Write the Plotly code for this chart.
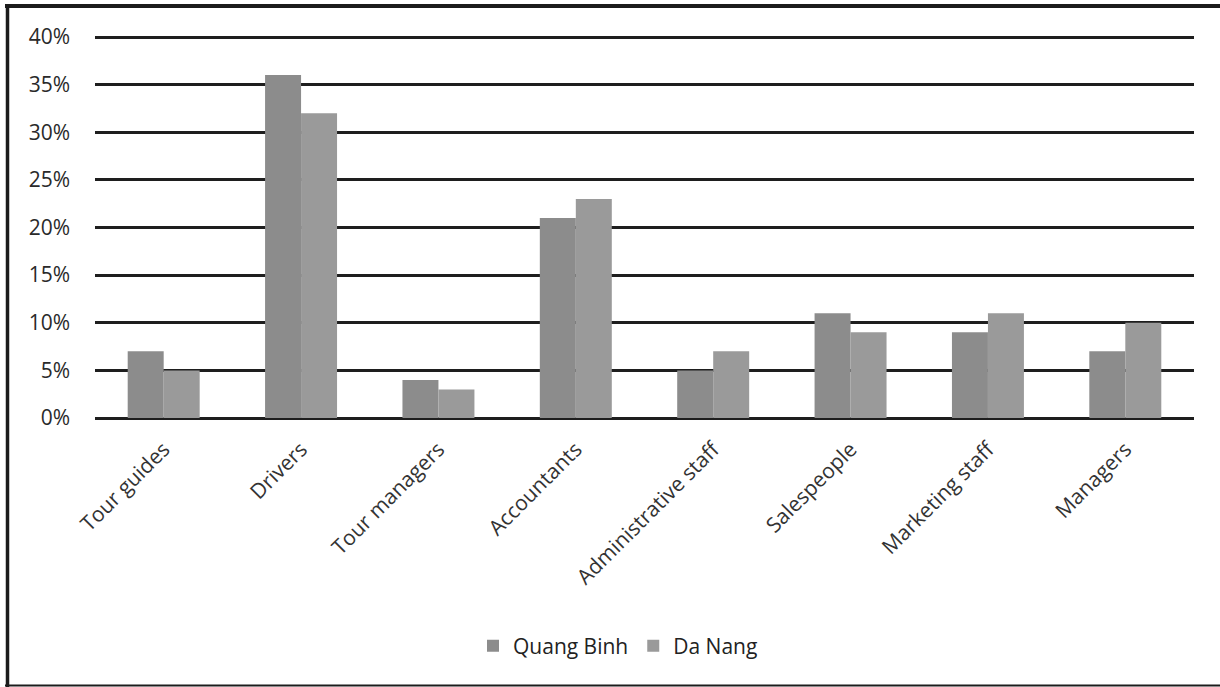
import plotly.graph_objects as go

# Share of staff positions by province
categories = ["Tour guides", "Drivers", "Tour managers", "Accountants",
              "Administrative staff", "Salespeople", "Marketing staff", "Managers"]
quang_binh = [0.07, 0.36, 0.04, 0.21, 0.05, 0.11, 0.09, 0.07]
da_nang = [0.05, 0.32, 0.03, 0.23, 0.07, 0.09, 0.11, 0.10]
y_ticks = [0, 0.05, 0.10, 0.15, 0.20, 0.25, 0.30, 0.35, 0.40]
y_tick_labels = ["0%", "5%", "10%", "15%", "20%", "25%", "30%", "35%", "40%"]

W, H = 1220, 687
L, R, T, B = 95, 26, 35, 269
plot_w = W - L - R
plot_h = H - T - B
# a little headroom so the 40% gridline is still drawn
y_top = 0.4 * plot_h / (H - 37 - B)


def px_x(x):
    return (x - L) / plot_w


def px_y(y):
    return (H - B - y) / plot_h


fig = go.Figure()
fig.add_trace(go.Bar(name="Quang Binh", x=categories, y=quang_binh,
                     marker=dict(color="#8c8c8c", line=dict(width=0))))
fig.add_trace(go.Bar(name="Da Nang", x=categories, y=da_nang,
                     marker=dict(color="#9a9a9a", line=dict(width=0))))

# Outer frame of the chart
frame = [
    dict(x0=px_x(7.5), x1=px_x(7.5), y0=px_y(4), y1=px_y(687), w=3.5),
    dict(x0=px_x(5), x1=px_x(1230), y0=px_y(6), y1=px_y(6), w=4),
    dict(x0=px_x(5), x1=px_x(1230), y0=px_y(685.5), y1=px_y(685.5), w=2),
]
shapes = [dict(type="line", xref="paper", yref="paper", x0=f["x0"], x1=f["x1"],
               y0=f["y0"], y1=f["y1"], line=dict(color="#1c1c1c", width=f["w"]))
          for f in frame]

fig.update_layout(
    width=W, height=H,
    margin=dict(l=L, r=R, t=T, b=B, pad=0),
    paper_bgcolor="white", plot_bgcolor="white",
    barmode="group", bargap=0.476, bargroupgap=0,
    font=dict(family="Open Sans", size=21, color="#333333"),
    showlegend=True,
    legend=dict(orientation="h", x=px_x(618), xanchor="center",
                y=px_y(646), yanchor="middle",
                font=dict(family="Open Sans", size=21, color="#222222"),
                itemwidth=30, traceorder="normal"),
    xaxis=dict(tickangle=-45, showgrid=False, showline=False, ticks="",
               ticklabelstandoff=14, tickfont=dict(size=21, color="#333333")),
    yaxis=dict(range=[0, y_top], tickvals=y_ticks, ticktext=y_tick_labels,
               showgrid=True, gridcolor="#1e1e1e", gridwidth=3,
               zeroline=True, zerolinecolor="#1e1e1e", zerolinewidth=3,
               showline=False, ticks="", ticklabelstandoff=24,
               tickfont=dict(size=21, color="#2a2a2a")),
    shapes=shapes,
)

fig.write_html("out.html")
